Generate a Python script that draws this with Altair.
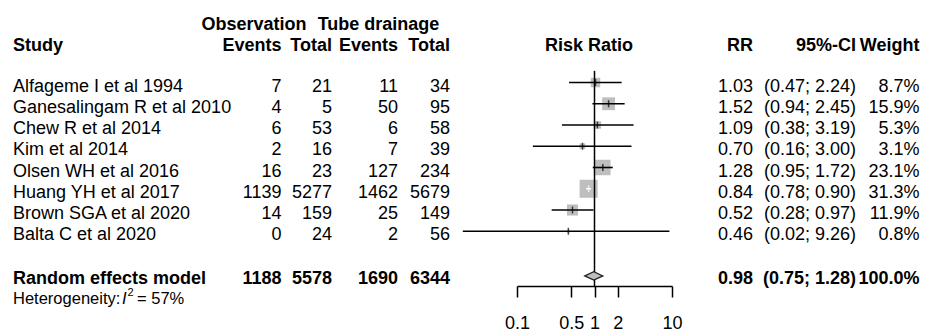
import altair as alt
import numpy as np
import pandas as pd

# ---------------- data ----------------
studies = ["Alfageme I et al 1994", "Ganesalingam R et al 2010", "Chew R et al 2014",
           "Kim et al 2014", "Olsen WH et al 2016", "Huang YH et al 2017",
           "Brown SGA et al 2020", "Balta C et al 2020"]
obs_events = [7, 4, 6, 2, 16, 1139, 14, 0]
obs_total = [21, 5, 53, 16, 23, 5277, 159, 24]
tube_events = [11, 50, 6, 7, 127, 1462, 25, 2]
tube_total = [34, 95, 58, 39, 234, 5679, 149, 56]
rr = [1.03, 1.52, 1.09, 0.70, 1.28, 0.84, 0.52, 0.46]
ci_lower = [0.47, 0.94, 0.38, 0.16, 0.95, 0.78, 0.28, 0.02]
ci_upper = [2.24, 2.45, 3.19, 3.00, 1.72, 0.90, 0.97, 9.26]
weight = [8.7, 15.9, 5.3, 3.1, 23.1, 31.3, 11.9, 0.8]

summary_label = "Random effects model"
summary_counts = [1188, 5578, 1690, 6344]
summary_rr = 0.98
summary_ci = [0.75, 1.28]
summary_weight = 100.0
heterogeneity_i2 = 57

axis_ticks = [0.1, 0.5, 1, 2, 10]

# ---------------- style ----------------
FONT = "Liberation Sans"
FS = 18
GRAY = "#bebebe"
X_RANGE = [509, 664]          # pixel range of 0.1 .. 10
Y_RANGE = [74.5, 287]         # pixel range of rows 0 .. 10
BOX_MAX = 18                  # side (px) of largest box
SUMMARY_ROW = 9.1
HET_ROW = 10.2
PLOT_W, PLOT_H = 912, 278

x_scale = alt.Scale(type="log", domain=[0.1, 10], range=X_RANGE, nice=False)
y_scale = alt.Scale(domain=[0, 10], range=Y_RANGE, zero=False, nice=False)
x_axis = alt.Axis(values=axis_ticks, format="~g", title=None, grid=False,
                  domain=True, domainColor="black", domainWidth=1.5,
                  ticks=True, tickColor="black", tickSize=11, tickWidth=1.5,
                  labelFont=FONT, labelFontSize=FS, labelColor="black",
                  labelPadding=17, labelFlush=False, labelOverlap=False)

df = pd.DataFrame({
    "study": studies, "oe": obs_events, "ot": obs_total, "te": tube_events,
    "tt": tube_total, "rr": rr, "lo": ci_lower, "hi": ci_upper, "w": weight,
})
df["row"] = np.arange(len(df))
df["rr_s"] = df["rr"].map(lambda v: f"{v:.2f}")
df["ci_s"] = [f"({a:.2f}; {b:.2f})" for a, b in zip(df["lo"], df["hi"])]
df["w_s"] = df["w"].map(lambda v: f"{v:.1f}%")
decade_px = X_RANGE[1] - X_RANGE[0]
side_px = BOX_MAX * np.sqrt(df["w"] / max(weight))
ci_px = decade_px / 2 * (np.log10(df["hi"]) - np.log10(df["lo"]))
df["lc"] = np.where(ci_px < side_px, "white", "black")

base = alt.Chart(df)
Y = alt.Y("row:Q", scale=y_scale, axis=None)

boxes = base.mark_square(color=GRAY, opacity=1).encode(
    x=alt.X("rr:Q", scale=x_scale, axis=x_axis),
    y=Y,
    size=alt.Size("w:Q", scale=alt.Scale(domain=[0, max(weight)], range=[0, BOX_MAX ** 2]), legend=None),
)
ci_lines = base.mark_rule(strokeWidth=1.6).encode(
    x=alt.X("lo:Q", scale=x_scale), x2="hi:Q", y=Y,
    color=alt.Color("lc:N", scale=None),
)
est_ticks = base.mark_tick(orient="vertical", size=7, thickness=1.5).encode(
    x=alt.X("rr:Q", scale=x_scale), y=Y,
    color=alt.Color("lc:N", scale=None),
)
ref_line = alt.Chart(pd.DataFrame({"v": [1.0], "top": [-0.55]})).mark_rule(
    color="black", strokeWidth=1.5).encode(
    x=alt.X("v:Q", scale=x_scale),
    y=alt.Y("top:Q", scale=y_scale, axis=None), y2=alt.value(PLOT_H),
)

half = 0.2
dia = pd.DataFrame({
    "x": [summary_ci[0], summary_rr, summary_ci[1]],
    "y1": [SUMMARY_ROW, SUMMARY_ROW - half, SUMMARY_ROW],
    "y2": [SUMMARY_ROW, SUMMARY_ROW + half, SUMMARY_ROW],
})
diamond = alt.Chart(dia).mark_area(fill=GRAY, stroke="#222", strokeWidth=1.3, orient="vertical").encode(
    x=alt.X("x:Q", scale=x_scale),
    y=alt.Y("y1:Q", scale=y_scale, axis=None), y2="y2:Q",
)


def col(field, x, align="right"):
    return base.mark_text(align=align, baseline="middle", dy=4, font=FONT, fontSize=FS,
                          color="black").encode(x=alt.value(x), y=Y, text=f"{field}:N")


def label(text, x, y, align="left", bold=False, size=FS, italic=False):
    return alt.Chart(pd.DataFrame({"t": [text]})).mark_text(
        align=align, baseline="middle", font=FONT, fontSize=size,
        fontWeight="bold" if bold else "normal",
        fontStyle="italic" if italic else "normal", color="black",
    ).encode(x=alt.value(x), y=alt.value(y), text="t:N")


summ = pd.DataFrame({
    "row": [SUMMARY_ROW], "lab": [summary_label],
    "oe": [str(summary_counts[0])], "ot": [str(summary_counts[1])],
    "te": [str(summary_counts[2])], "tt": [str(summary_counts[3])],
    "rr_s": [f"{summary_rr:.2f}"], "ci_s": [f"({summary_ci[0]:.2f}; {summary_ci[1]:.2f})"],
    "w_s": [f"{summary_weight:.1f}%"],
})


def scol(field, x, align="right"):
    return alt.Chart(summ).mark_text(align=align, baseline="middle", dy=3, font=FONT, fontSize=FS,
                                     fontWeight="bold", color="black").encode(
        x=alt.value(x), y=alt.Y("row:Q", scale=y_scale, axis=None), text=f"{field}:N")


XC = {"study": 5, "oe": 273.5, "ot": 324, "te": 390, "tt": 442, "rr": 745, "ci": 848, "w": 911.5}
HY = 38

layers = [
    boxes, ci_lines, est_ticks, ref_line, diamond,
    col("study", XC["study"], "left"), col("oe", XC["oe"]), col("ot", XC["ot"]),
    col("te", XC["te"]), col("tt", XC["tt"]), col("rr_s", XC["rr"]),
    col("ci_s", XC["ci"]), col("w_s", XC["w"]),
    scol("lab", XC["study"], "left"), scol("oe", XC["oe"]), scol("ot", XC["ot"]),
    scol("te", XC["te"]), scol("tt", XC["tt"]), scol("rr_s", XC["rr"]),
    scol("ci_s", XC["ci"]), scol("w_s", XC["w"]),
    label("Observation", 246, 17, "center", True),
    label("Tube drainage", 370.5, 17, "center", True),
    label("Study", XC["study"], HY, "left", True),
    label("Events", XC["oe"], HY, "right", True),
    label("Total", XC["ot"], HY, "right", True),
    label("Events", XC["te"], HY, "right", True),
    label("Total", XC["tt"], HY, "right", True),
    label("Risk Ratio", 581, HY, "center", True),
    label("RR", XC["rr"], HY, "right", True),
    label("95%-CI", XC["ci"], HY, "right", True),
    label("Weight", XC["w"], HY, "right", True),
]

het_y = Y_RANGE[0] + (Y_RANGE[1] - Y_RANGE[0]) * HET_ROW / 10
layers += [
    label("Heterogeneity:", 5, het_y, "left", size=16.5),
    label("I", 114, het_y, "left", size=16.5, italic=True),
    label("2", 119.5, het_y - 6, "left", size=11),
    label(f"= {heterogeneity_i2}%", 129, het_y, "left", size=16.5),
]

chart = alt.layer(*layers).properties(
    width=PLOT_W, height=PLOT_H,
    autosize=alt.AutoSizeParams(type="none"),
    padding={"left": 0, "top": 0, "right": 0, "bottom": 45},
    background="white",
).configure_view(stroke=None)

chart.save("out.html", embed_options={"renderer": "svg", "actions": False})
